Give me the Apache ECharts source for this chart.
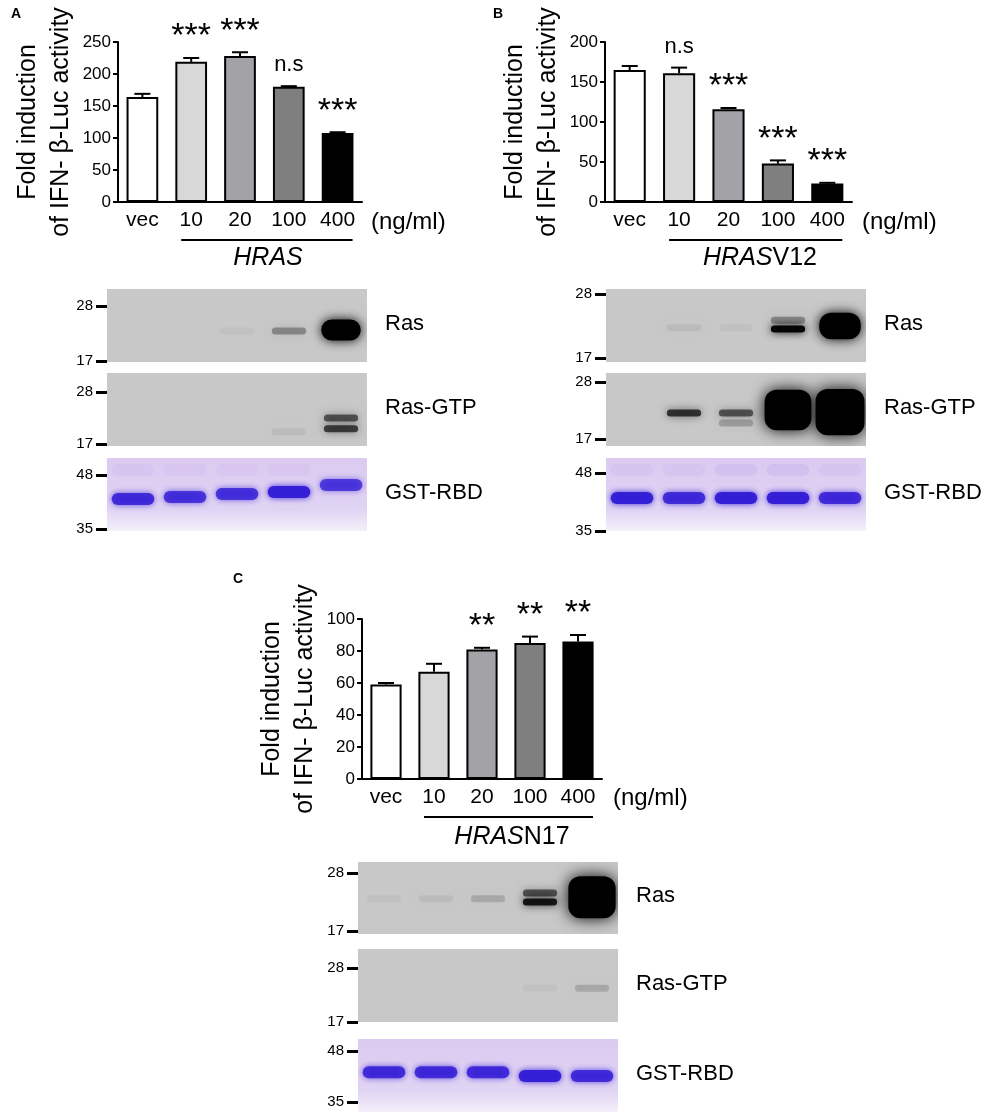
<!DOCTYPE html>
<html>
<head>
<meta charset="utf-8">
<script src="https://cdn.jsdelivr.net/npm/echarts@6/dist/echarts.min.js"></script>
<style>
  html, body { margin: 0; padding: 0; background: #fff; }
  #main { width: 1008px; height: 1116px; }
</style>
</head>
<body>
<div id="main"></div>
<script>
// doses (lanes and bar categories)
var doses = ['vec', '10', '20', '100', '400'];

// luciferase fold induction, mean / SEM / significance
var hrasMean = [164, 219, 228, 180, 108];
var hrasErr = [5, 6, 6, 1, 1];
var hrasSig = ['', '***', '***', 'n.s', '***'];

var v12Mean = [165, 161, 116, 48, 23];
var v12Err = [5, 7, 1.5, 4, 1];
var v12Sig = ['', 'n.s', '***', '***', '***'];

var n17Mean = [59, 67, 81, 85, 86];
var n17Err = [1, 5, 1, 4, 4];
var n17Sig = ['', '', '**', '**', '**'];

// blot bands: [lane, apparent MW (kDa), signal]  (signal > 1 = saturated)
var rasA = [['20', 23, 0.03], ['100', 23, 0.3], ['400', 23.2, 2.0]];
var gtpA = [['100', 19.6, 0.06], ['400', 22.5, 0.55], ['400', 20.2, 0.65]];
var gstA = [['vec', 42.2, 0.85], ['10', 42.7, 0.8], ['20', 43.4, 0.8], ['100', 43.9, 0.95], ['400', 45.6, 0.75],
            ['vec', 49.2, 0.04], ['10', 49.2, 0.03], ['20', 49.2, 0.03], ['100', 49.2, 0.03]];

var rasB = [['10', 22.2, 0.06], ['20', 22.2, 0.04], ['100', 23.5, 0.3], ['100', 22.0, 0.95], ['400', 22.5, 2.4]];
var gtpB = [['10', 22.0, 0.7], ['20', 22.0, 0.55], ['20', 20.1, 0.2], ['100', 22.6, 3.4], ['400', 22.2, 3.8]];
var gstB = [['vec', 42.4, 0.95], ['10', 42.4, 0.85], ['20', 42.4, 0.95], ['100', 42.4, 0.95], ['400', 42.4, 0.85],
            ['vec', 48.7, 0.04], ['10', 48.7, 0.04], ['20', 48.7, 0.06], ['100', 48.7, 0.06], ['400', 48.7, 0.04]];

var rasC = [['vec', 23.1, 0.03], ['10', 23.1, 0.06], ['20', 23.1, 0.15], ['100', 24.2, 0.55], ['100', 22.5, 0.85], ['400', 23.4, 3.5]];
var gtpC = [['100', 23.9, 0.03], ['400', 23.9, 0.15]];
var gstC = [['vec', 42.6, 0.85], ['10', 42.6, 0.85], ['20', 42.6, 0.85], ['100', 41.6, 0.95], ['400', 41.6, 0.85]];

var barColors = ['#ffffff', '#d8d8d8', '#a3a3a7', '#7f7f7f', '#000000'];
var FONT = 'Liberation Sans, Arial, sans-serif';

var chart = echarts.init(document.getElementById('main'));

// bar panels
var barPanels = [
  { grid: { left: 118, top: 42, width: 244, height: 160 }, max: 250, step: 50, mean: hrasMean, err: hrasErr, sig: hrasSig,
    gene: '{i|HRAS}', geneX: 268, geneY: 258, lineY: 240, unitX: 371, unitY: 222, letter: 'A', letterX: 16, letterY: 14 },
  { grid: { left: 605, top: 42, width: 247, height: 160 }, max: 200, step: 50, mean: v12Mean, err: v12Err, sig: v12Sig,
    gene: '{i|HRAS}V12', geneX: 760, geneY: 258, lineY: 240, unitX: 862, unitY: 222, letter: 'B', letterX: 498, letterY: 14 },
  { grid: { left: 362, top: 619, width: 240, height: 160 }, max: 100, step: 20, mean: n17Mean, err: n17Err, sig: n17Sig,
    gene: '{i|HRAS}N17', geneX: 512, geneY: 837, lineY: 817, unitX: 613, unitY: 798, letter: 'C', letterX: 238, letterY: 579 }
];

// blot panels
var blots = [
  { grid: { left: 107, top: 289, width: 260, height: 73 }, marks: [[28, 306], [17, 361]], bands: rasA, kind: 'ecl', label: 'Ras' },
  { grid: { left: 107, top: 373, width: 260, height: 73 }, marks: [[28, 392], [17, 444]], bands: gtpA, kind: 'ecl', label: 'Ras-GTP' },
  { grid: { left: 107, top: 458, width: 260, height: 73 }, marks: [[48, 475], [35, 529]], bands: gstA, kind: 'cbb', label: 'GST-RBD' },
  { grid: { left: 606, top: 289, width: 260, height: 73 }, marks: [[28, 294], [17, 358]], bands: rasB, kind: 'ecl', label: 'Ras' },
  { grid: { left: 606, top: 373, width: 260, height: 73 }, marks: [[28, 382], [17, 439]], bands: gtpB, kind: 'ecl', label: 'Ras-GTP' },
  { grid: { left: 606, top: 458, width: 260, height: 73 }, marks: [[48, 473], [35, 531]], bands: gstB, kind: 'cbb', label: 'GST-RBD' },
  { grid: { left: 358, top: 862, width: 260, height: 72 }, marks: [[28, 873], [17, 931]], bands: rasC, kind: 'ecl', label: 'Ras' },
  { grid: { left: 358, top: 949, width: 260, height: 73 }, marks: [[28, 968], [17, 1022]], bands: gtpC, kind: 'ecl', label: 'Ras-GTP' },
  { grid: { left: 358, top: 1039, width: 260, height: 73 }, marks: [[48, 1051], [35, 1102]], bands: gstC, kind: 'cbb', label: 'GST-RBD' }
];

var grids = [], xAxes = [], yAxes = [], series = [], graphics = [];

function errorBarRenderer(params, api) {
  var i = api.value(0), m = api.value(1), e = api.value(2);
  var sig = api.value(3);
  var base = api.coord([i, m]);
  var top = api.coord([i, m + e]);
  var kids = [
    { type: 'line', shape: { x1: top[0], y1: base[1], x2: top[0], y2: top[1] }, style: { stroke: '#000', lineWidth: 2 } },
    { type: 'line', shape: { x1: top[0] - 8, y1: top[1], x2: top[0] + 8, y2: top[1] }, style: { stroke: '#000', lineWidth: 2 } }
  ];
  if (sig) {
    var stars = sig.indexOf('*') === 0;
    kids.push({
      type: 'text',
      style: {
        x: top[0], y: top[1] - 21,
        text: sig, align: 'center', verticalAlign: 'middle',
        font: (stars ? '34px ' : '22px ') + FONT, fill: '#000'
      }
    });
  }
  return { type: 'group', children: kids };
}

barPanels.forEach(function (p, k) {
  grids.push(p.grid);
  xAxes.push({
    type: 'category', gridIndex: k, data: doses,
    axisLine: { lineStyle: { color: '#000', width: 2 } },
    axisTick: { alignWithLabel: true, length: 5, lineStyle: { color: '#000', width: 2 } },
    axisLabel: { color: '#000', fontSize: 21, margin: 8, fontFamily: FONT }
  });
  yAxes.push({
    type: 'value', gridIndex: k, min: 0, max: p.max, interval: p.step,
    name: 'Fold induction\nof IFN- \u03b2-Luc activity', nameLocation: 'middle', nameGap: 40,
    nameTextStyle: { color: '#000', fontSize: 25, lineHeight: 33, fontFamily: FONT },
    axisLine: { show: true, lineStyle: { color: '#000', width: 2 } },
    axisTick: { show: true, length: 5, lineStyle: { color: '#000', width: 2 } },
    axisLabel: { color: '#000', fontSize: 17, margin: 7, fontFamily: FONT },
    splitLine: { show: false }
  });
  series.push({
    type: 'bar', xAxisIndex: k, yAxisIndex: k, barWidth: '65%',
    data: p.mean,
    itemStyle: { color: function (d) { return barColors[d.dataIndex]; }, borderColor: '#000', borderWidth: 2 },
    silent: true
  });
  series.push({
    type: 'custom', xAxisIndex: k, yAxisIndex: k, renderItem: errorBarRenderer, z: 3,
    data: p.mean.map(function (m, i) { return [i, m, p.err[i], p.sig[i]]; }),
    dimensions: ['x', 'mean', 'err', { name: 'sig', type: 'ordinal' }],
    encode: { x: 0, y: 1 }
  });
});

function bandRenderer(kind) {
  return function (params, api) {
    var p = api.coord([api.value(0), api.value(1)]);
    var laneW = api.size([1, 0])[0];
    var s = api.value(2);
    var over = Math.max(0, s - 1);
    var a = Math.min(1, s);
    var w, h, col, blur;
    if (kind === 'cbb') {
      w = laneW * 0.82; h = 12; blur = 6;
      col = 'rgba(50,28,214,' + a + ')';
    } else {
      w = laneW * (0.66 + 0.1 * over); h = 7 + 14 * over; blur = 8 + 3 * over;
      col = 'rgba(0,0,0,' + a + ')';
    }
    return {
      type: 'rect',
      shape: { x: p[0] - w / 2, y: p[1] - h / 2, width: w, height: h, r: Math.min(h / 2, 12) },
      style: { fill: col, shadowBlur: blur, shadowColor: col }
    };
  };
}

blots.forEach(function (b, j) {
  var k = barPanels.length + j;
  var g = b.grid;
  var m1 = b.marks[0][0], y1 = b.marks[0][1], m2 = b.marks[1][0], y2 = b.marks[1][1];
  var pxPerUnit = (y2 - y1) / (m1 - m2);
  var bg = b.kind === 'cbb'
    ? new echarts.graphic.LinearGradient(0, 0, 0, 1, [
        { offset: 0, color: '#dccaf1' }, { offset: 0.7, color: '#e0d3f3' }, { offset: 1, color: '#f4f0fa' }])
    : '#c8c8c8';
  grids.push({ left: g.left, top: g.top, width: g.width, height: g.height, show: true, backgroundColor: bg, borderWidth: 0 });
  xAxes.push({ type: 'category', gridIndex: k, data: doses, show: false });
  yAxes.push({
    type: 'value', gridIndex: k,
    max: m1 + (y1 - g.top) / pxPerUnit,
    min: m2 - (g.top + g.height - y2) / pxPerUnit,
    axisLine: { show: false },
    axisTick: { show: true, customValues: [m1, m2], length: 11, lineStyle: { color: '#000', width: 3 } },
    axisLabel: { customValues: [m1, m2], color: '#000', fontSize: 15, margin: 14, fontFamily: FONT },
    splitLine: { show: false }
  });
  series.push({
    type: 'custom', xAxisIndex: k, yAxisIndex: k, clip: true, silent: true,
    renderItem: bandRenderer(b.kind),
    data: b.bands.map(function (d) { return [doses.indexOf(d[0]), d[1], d[2]]; }),
    encode: { x: 0, y: 1 }
  });
  graphics.push({
    type: 'text', left: g.left + g.width + 18, top: g.top + g.height / 2 - 13,
    style: { text: b.label, font: '22px ' + FONT, fill: '#000' }
  });
});

barPanels.forEach(function (p) {
  graphics.push({ type: 'text', x: p.letterX, y: p.letterY,
    style: { text: p.letter, font: 'bold 14px ' + FONT, fill: '#000', align: 'center', verticalAlign: 'middle' } });
  graphics.push({ type: 'text', x: p.unitX, y: p.unitY,
    style: { text: '(ng/ml)', font: '24px ' + FONT, fill: '#000', align: 'left', verticalAlign: 'middle' } });
  graphics.push({ type: 'text', x: p.geneX, y: p.geneY,
    style: { text: p.gene, font: '25px ' + FONT, fill: '#000', align: 'center', verticalAlign: 'middle',
      rich: { i: { fontStyle: 'italic', fontSize: 25, fontFamily: FONT } } } });
});

var option = {
  animation: false,
  textStyle: { fontFamily: FONT },
  grid: grids,
  xAxis: xAxes,
  yAxis: yAxes,
  series: series,
  graphic: graphics
};
chart.setOption(option);

// underline below the dosed lanes (10 to 400), placed from the axis scale
var lines = barPanels.map(function (p, k) {
  var x0 = chart.convertToPixel({ xAxisIndex: k }, 1);
  var x1 = chart.convertToPixel({ xAxisIndex: k }, 4);
  return { type: 'line', shape: { x1: x0 - 10, y1: p.lineY, x2: x1 + 15, y2: p.lineY }, style: { stroke: '#000', lineWidth: 2 } };
});
chart.setOption({ graphic: graphics.concat(lines) });
</script>
</body>
</html>
